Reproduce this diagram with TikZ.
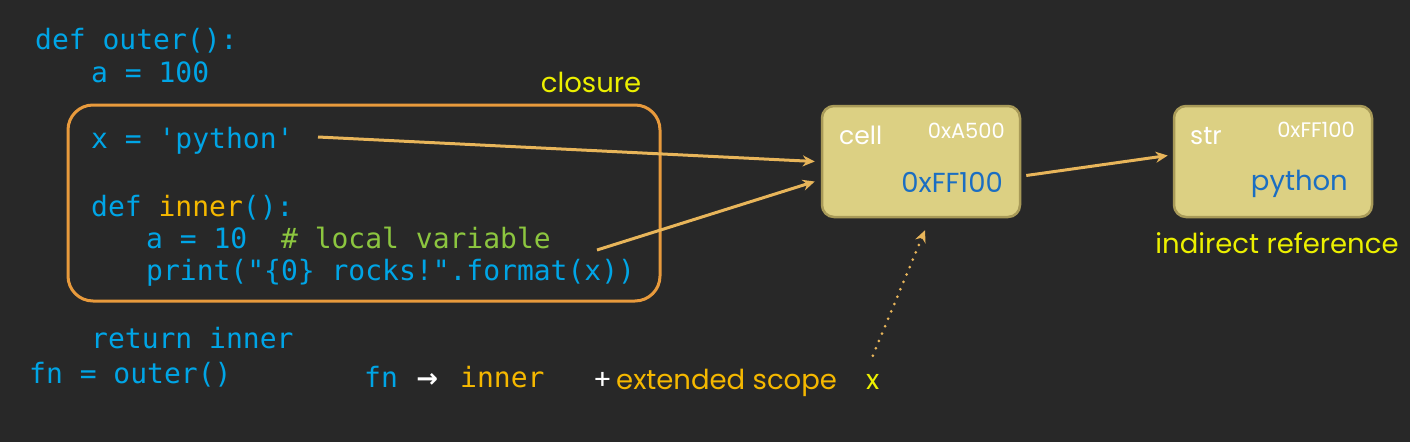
\documentclass[tikz,border=0pt]{standalone}
\usepackage{fontspec}
\usepackage{xcolor}
\usepackage{tikz}
\usetikzlibrary{arrows.meta, positioning}
\setmonofont{DejaVu Sans Mono}
\newfontfamily\labelfont{Poppins}
\newfontfamily\symfont{DejaVu Sans}

\definecolor{bgdark}{HTML}{282828}
\definecolor{codeblue}{HTML}{00A5E6}
\definecolor{innerorange}{HTML}{F5B800}
\definecolor{commentgreen}{HTML}{8CC63F}
\definecolor{closureyellow}{HTML}{ECF000}
\definecolor{boxorange}{HTML}{E89A3C}
\definecolor{arrowtan}{HTML}{E8B55A}
\definecolor{cellfill}{HTML}{DCD083}
\definecolor{cellborder}{HTML}{A89A58}
\definecolor{valblue}{HTML}{1B6EC2}

\tikzstyle{codeline} = [anchor=base west, inner sep=0pt, font=\ttfamily\fontsize{28}{30}\selectfont, text=codeblue]
\tikzstyle{tag} = [inner sep=0pt, font=\labelfont\fontsize{27.5}{30}\selectfont]
\tikzstyle{smalltag} = [inner sep=0pt, font=\labelfont\fontsize{21}{23}\selectfont, text=white]
\tikzstyle{memcell} = [rectangle, rounded corners=12pt, minimum width=198pt, minimum height=111pt, draw=cellborder, line width=2.5pt, fill=cellfill]
\tikzstyle{arrow} = [line width=3pt, draw=arrowtan, -{Stealth[length=12pt,width=11pt]}]
\tikzstyle{dotarrow} = [line width=3pt, draw=arrowtan, line cap=round, dash pattern=on 0pt off 8pt, -{Stealth[length=12pt,width=11pt]}]

\begin{document}
\begin{tikzpicture}[x=1pt, y=-1pt]

    % Background
    \useasboundingbox (0,0) rectangle (1410,442);
    \fill[bgdark] (0,0) rectangle (1410,442);

    % Code
    \node (outerdef) [codeline] at (35,49) {def outer():};
    \node (aouter) [codeline] at (91,82) {a = 100};
    \node (xdef) [codeline] at (91,148) {x = 'python'};
    \node (innerdef) [codeline] at (91,216) {def \textcolor{innerorange}{inner}():};
    \node (ainner) [codeline] at (146,248) {a = 10\ \ \textcolor{commentgreen}{\# local variable}};
    \node (printline) [codeline] at (146,280) {print("\{0\} rocks!".format(x))};
    \node (retline) [codeline] at (91,348) {return inner};
    \node (fncall) [codeline] at (29,383) {fn = outer()};

    % Closure
    \node (closurebox) [rectangle, draw=boxorange, line width=3pt, rounded corners=25pt, minimum width=592pt, minimum height=196pt] at (364,203) {};
    \node (closurelbl) [tag, anchor=base, text=closureyellow] at (591,92) {closure};

    % Memory
    \node (cell) [memcell] at (921,161.5) {};
    \node (celllbl) [tag, anchor=base west, text=white, font=\labelfont\fontsize{25}{27}\selectfont] at (839,144) {cell};
    \node (celladdr) [smalltag, anchor=base east] at (1005,138) {0xA500};
    \node (cellval) [tag, anchor=base east, text=valblue] at (1003,192) {0xFF100};

    \node (str) [memcell] at (1273,161.5) {};
    \node (strlbl) [tag, anchor=base west, text=white, font=\labelfont\fontsize{25}{27}\selectfont] at (1190,144) {str};
    \node (straddr) [smalltag, anchor=base east] at (1355,137) {0xFF100};
    \node (strval) [tag, anchor=base east, text=valblue] at (1348,190) {python};
    \node (indirect) [tag, anchor=base, text=closureyellow] at (1277,253) {indirect reference};

    % Bottom line
    \node (fn) [codeline] at (364,387) {fn};
    \node (fnarrow) [codeline, text=white, font=\symfont\bfseries\fontsize{26}{28}\selectfont, right=18pt of fn.base east, anchor=base west] {→};
    \node (fninner) [codeline, text=innerorange] at (460,387) {inner};
    \node (plus) [tag, anchor=base west, text=white] at (593,389) {+};
    \node (extscope) [tag, anchor=base west, text=innerorange] at (616,389) {extended scope};
    \node (xvar) [tag, anchor=base west, text=closureyellow] at (866,389) {x};

    % Arrows
    \coordinate (xsrc) at (318,137);
    \coordinate (xuse) at (597,250);
    \draw [arrow] (xsrc) -- ([xshift=-6pt]cell.west);
    \draw [arrow] (xuse) -- ([xshift=-6pt, yshift=-20pt]cell.west);
    \draw [arrow] ([xshift=5pt, yshift=-14pt]cell.east) -- ([xshift=-5pt, yshift=6pt]str.west);
    \draw [dotarrow] ([yshift=18pt]xvar.north) -- ([xshift=4pt, yshift=-12pt]cell.south);

\end{tikzpicture}
\end{document}
